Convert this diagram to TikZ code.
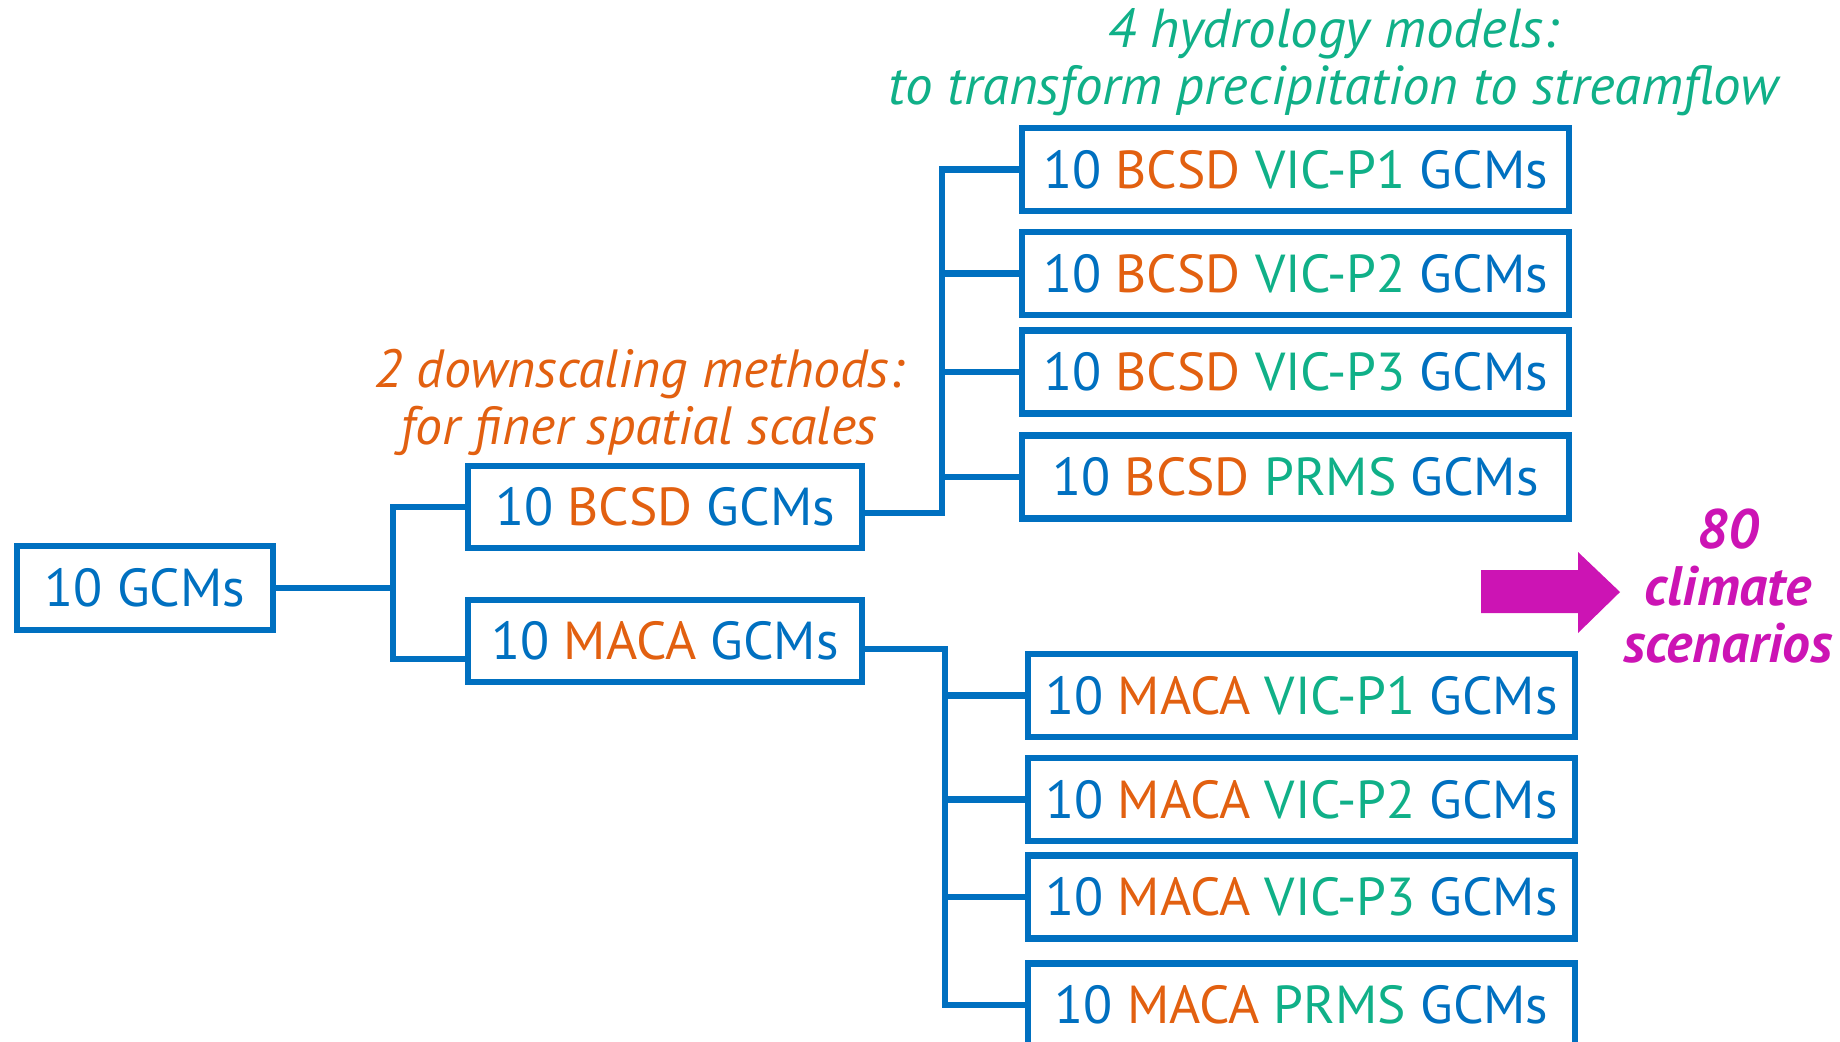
\documentclass[tikz,border=0pt]{standalone}
\usepackage{fontspec}
\setmainfont{PT Sans}
\usetikzlibrary{calc}
\definecolor{gcmblue}{RGB}{0, 112, 192}
\definecolor{dsorange}{RGB}{226, 96, 16}
\definecolor{hmgreen}{RGB}{16, 176, 136}
\definecolor{scnmagenta}{RGB}{204, 20, 180}
\newcommand{\ds}[1]{\textcolor{dsorange}{#1}}
\newcommand{\hm}[1]{\textcolor{hmgreen}{#1}}
\tikzstyle{gcmbox} = [rectangle, draw=gcmblue, line width=1.8pt, text=gcmblue, inner sep=0pt,
                      minimum height=0.83cm, font=\fontsize{15.2pt}{17pt}\selectfont]
\tikzstyle{leaf} = [gcmbox, minimum width=5.47cm]
\tikzstyle{tree} = [draw=gcmblue, line width=1.8pt]
\tikzstyle{note} = [align=center, font=\fontsize{15.3pt}{16.2pt}\selectfont\itshape]
\begin{document}
\begin{tikzpicture}[x=0.01cm, y=-0.01cm]
\useasboundingbox (0,0) rectangle (1840,1041);

% Captions
\node[note, text=hmgreen, font=\fontsize{15.6pt}{16.1pt}\selectfont\itshape] (hydro) at (1333, 62) {4 hydrology models:\\to transform precipitation to streamflow};
\node[note, text=dsorange] (downsc) at (639, 402) {2 downscaling methods:\\for finer spatial scales};

% Stage 1: GCMs
\node[gcmbox, minimum width=2.56cm, minimum height=0.84cm] (gcm) at (145, 588) {10 GCMs};

% Stage 2: downscaling
\node[gcmbox, minimum width=3.94cm, minimum height=0.82cm] (bcsd) at (665, 507) {10 \ds{BCSD} GCMs};
\node[gcmbox, minimum width=3.94cm, minimum height=0.82cm] (maca) at (665, 641) {10 \ds{MACA} GCMs};

% Stage 3: hydrology models, BCSD branch
\node[leaf] (b1) at (1295.5, 169.5) {10 \ds{BCSD} \hm{VIC-P1} GCMs};
\node[leaf] (b2) at (1295.5, 273.5) {10 \ds{BCSD} \hm{VIC-P2} GCMs};
\node[leaf] (b3) at (1295.5, 372) {10 \ds{BCSD} \hm{VIC-P3} GCMs};
\node[leaf] (b4) at (1295.5, 477) {10 \ds{BCSD} \hm{PRMS} GCMs};

% Stage 3: hydrology models, MACA branch
\node[leaf] (m1) at (1301.5, 695.5) {10 \ds{MACA} \hm{VIC-P1} GCMs};
\node[leaf] (m2) at (1301.5, 799.5) {10 \ds{MACA} \hm{VIC-P2} GCMs};
\node[leaf] (m3) at (1301.5, 897) {10 \ds{MACA} \hm{VIC-P3} GCMs};
\node[leaf] (m4) at (1301.5, 1005) {10 \ds{MACA} \hm{PRMS} GCMs};

% Branch points
\coordinate (gsplit) at (393, 588);
\coordinate (bsplit) at (942, 513);
\coordinate (msplit) at (945, 649);

% Tree lines 1-2
\draw[tree] (gcm.east) -- (gsplit) |- (bcsd.west);
\draw[tree] (gsplit) |- ($(maca.west)+(0,18)$);

% Tree lines 2-3
\draw[tree] ($(bcsd.east)+(0,6)$) -- (bsplit) |- (b1.west);
\foreach \i in {2,3,4}
  \draw[tree] (bsplit |- b\i.west) -- (b\i.west);
\draw[tree] ($(maca.east)+(0,8)$) -- (msplit) |- (m4.west);
\foreach \i in {1,2,3}
  \draw[tree] (msplit |- m\i.west) -- (m\i.west);

% Result
\fill[scnmagenta] (1481,570) -- (1578,570) -- (1578,552) -- (1620,592)
  -- (1578,633) -- (1578,613) -- (1481,613) -- cycle;
\node[note, text=scnmagenta, font=\fontsize{15.8pt}{16.2pt}\selectfont\bfseries\itshape] (scen) at (1728, 586) {80\\climate\\scenarios};

\end{tikzpicture}
\end{document}
